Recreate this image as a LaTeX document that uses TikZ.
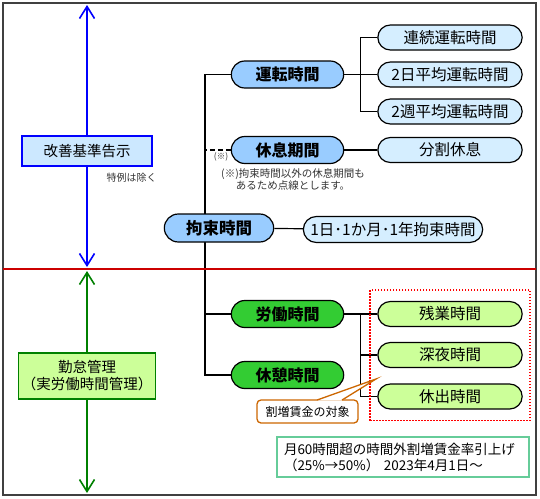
\documentclass[tikz,border=0pt]{standalone}
\usepackage{fontspec}
\setmainfont{Noto Sans CJK JP}
\usepackage{tikz}
\usetikzlibrary{shapes.misc,arrows.meta,positioning,fit,calc,backgrounds}

\definecolor{midblue}{HTML}{99CCFF}
\definecolor{paleblue}{HTML}{D5EEFF}
\definecolor{boxblue}{HTML}{CCE8FF}
\definecolor{midgreen}{HTML}{33CC33}
\definecolor{palegreen}{HTML}{CCFF99}
\definecolor{tagorange}{HTML}{CC6600}
\definecolor{notegreen}{HTML}{66CC99}
\definecolor{framegray}{HTML}{404040}

\begin{document}
\begin{tikzpicture}[
  x=1pt, y=-1pt,
  main/.style={rounded rectangle, draw, line width=1.2pt, minimum width=119pt, minimum height=27pt, font=\fontsize{16}{18}\selectfont\bfseries},
  sub/.style={rounded rectangle, draw, line width=1.2pt, minimum width=151pt, minimum height=25pt, font=\fontsize{15.5}{17}\selectfont},
  side/.style={rectangle, draw, line width=1.6pt, minimum width=130pt, align=center, font=\fontsize{14.5}{17}\selectfont},
  link/.style={line width=1.2pt},
  span/.style={line width=1.6pt, {Straight Barb[length=12pt,width=15pt]}-{Straight Barb[length=12pt,width=15pt]}},
  remark/.style={inner sep=0pt, text=black!80, align=center}
]
  \useasboundingbox (0,0) rectangle (540,498);
  \draw[framegray, line width=2pt] (3,3) rectangle (536,495);
  \draw[red!80!black, line width=1.5pt] (3,269) -- (536,269);

  % left side
  \node[side, draw=blue, fill=boxblue, minimum height=30pt] (kaizen) at (87,151) {改善基準告示};
  \node[remark, font=\fontsize{10}{12}\selectfont, below left=6pt and -4pt of kaizen.south east] (tokurei) {特例は除く};
  \node[side, draw=green!50!black, fill=palegreen, minimum height=46pt] (kintai) at (87,376) {勤怠管理\\（実労働時間管理）};
  \coordinate (blue top) at (87,5);
  \coordinate (blue bot) at (87,267);
  \coordinate (green top) at (87,271);
  \coordinate (green bot) at (87,493);

  % middle column
  \node[main, fill=midblue] (unten) at (287.5,74.5) {運転時間};
  \node[main, fill=midblue] (kyusoku) at (287.5,150) {休息期間};
  \node[main, fill=midblue, minimum width=116pt, minimum height=28pt, font=\fontsize{16.5}{18}\selectfont\bfseries] (kousoku) at (219,228) {拘束時間};
  \node[main, fill=midgreen] (roudou) at (287.5,314) {労働時間};
  \node[main, fill=midgreen] (kyukei) at (287.5,375) {休憩時間};
  \coordinate (trunk) at (205,74.5);
  \node[remark, font=\fontsize{8.5}{10}\selectfont] (kome) at (221,157) {(※)};
  \node[remark, font=\fontsize{10.5}{12}\selectfont] (komenote) at (293,179.5) {(※)拘束時間以外の休息期間も\\あるため点線とします。};

  % right column
  \node[sub, fill=paleblue] (renzoku) at (450,37.5) {連続運転時間};
  \node[sub, fill=paleblue] (hi2) at (450,74.5) {2日平均運転時間};
  \node[sub, fill=paleblue] (shuu2) at (450,111.5) {2週平均運転時間};
  \node[sub, fill=paleblue] (bunkatsu) at (450,150) {分割休息};
  \node[sub, fill=paleblue, minimum width=186pt, minimum height=26pt] (ichinichi) at (393,229.5) {1日･1か月･1年拘束時間};
  \node[sub, fill=palegreen] (zangyo) at (450,314) {残業時間};
  \node[sub, fill=palegreen] (shinya) at (450,355) {深夜時間};
  \node[sub, fill=palegreen] (kyushutsu) at (450,396.5) {休出時間};
  \node[draw=red, dash pattern=on 1.5pt off 1.5pt, line width=1.5pt, inner xsep=7pt, inner ysep=11pt, fit=(zangyo) (kyushutsu)] (wariwaku) {};

  % callout and note
  \node[draw=tagorange, line width=1.3pt, fill=white, rounded corners=4pt, minimum width=101pt, minimum height=23pt, font=\fontsize{12}{14}\selectfont] (tag) at (307.5,411.5) {割増賃金の対象};
  \coordinate (tagtip) at (376,379);
  \fill[white] ($(tag.north)+(9.5,1.2)$) -- (tagtip) -- ($(tag.north)+(34.5,1.2)$) -- cycle;
  \draw[tagorange, line width=1.3pt] ($(tag.north)+(9.5,0.7)$) -- (tagtip) -- ($(tag.north)+(34.5,0.7)$);
  \node[draw=notegreen, line width=2pt, fill=white, minimum width=252pt, minimum height=40pt, text width=238pt, align=left, font=\fontsize{13.5}{16}\selectfont] (hikiage) at (403,457) {月60時間超の時間外割増賃金率引上げ\\（25\%→50\%） 2023年4月1日～};

  \begin{pgfonlayer}{background}
    \draw[span, blue] (blue top) -- (blue bot);
    \draw[span, green!50!black] (green top) -- (green bot);
    \draw[link] (unten.west) -- (trunk) |- (kyukei.west);
    \draw[link] (roudou.west) -- (roudou.west -| trunk);
    \draw[link, dash pattern=on 5pt off 3pt] (kyusoku.west) -- (kyusoku.west -| trunk);
    \draw[link] (kousoku) -- (ichinichi);
    \draw[link] (unten.east) -- (hi2.west);
    \draw[link] (renzoku.west) -- ++(-17,0) |- (shuu2.west);
    \draw[link] (kyusoku.east) -- (bunkatsu.west);
    \draw[link] (roudou.east) -- (zangyo.west);
    \draw[link] (zangyo.west) -- ++(-17,0) |- (kyushutsu.west);
    \draw[link] (shinya.west) -- ++(-17,0);
  \end{pgfonlayer}
\end{tikzpicture}
\end{document}
